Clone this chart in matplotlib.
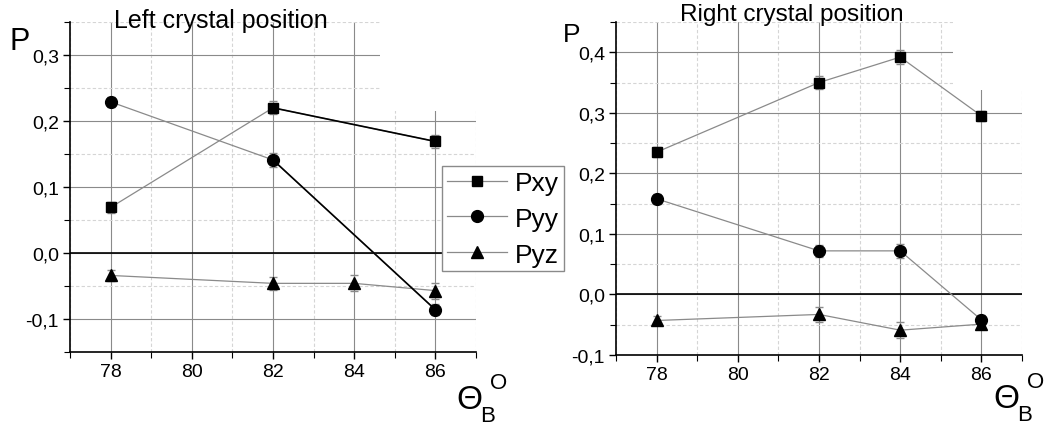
import numpy as np
import matplotlib.pyplot as plt
from matplotlib.lines import Line2D
from matplotlib.patches import Rectangle
from matplotlib.ticker import MultipleLocator, FuncFormatter

plt.rcParams['font.family'] = ['Liberation Sans', 'DejaVu Sans']

# left crystal position
left_x = {"Pxy": [78, 82, 86], "Pyy": [78, 82, 86], "Pyz": [78, 82, 84, 86]}
left_pxy = [0.069, 0.22, 0.169]
left_pyy = [0.229, 0.141, -0.086]
left_pyz = [-0.034, -0.046, -0.046, -0.057]
left_pxy_err = [0.008, 0.01, 0.01]
left_pyy_err = [0.008, 0.01, 0.008]
left_pyz_err = [0.008, 0.01, 0.012, 0.012]

# right crystal position
right_x = [78, 82, 84, 86]
right_pxy = [0.235, 0.350, 0.392, 0.295]
right_pyy = [0.158, 0.072, 0.072, -0.042]
right_pyz = [-0.043, -0.033, -0.059, -0.049]
right_pxy_err = [0.008, 0.01, 0.012, 0.008]
right_pyy_err = [0.008, 0.01, 0.012, 0.008]
right_pyz_err = [0.008, 0.012, 0.013, 0.008]

x_ticks = [78, 80, 82, 84, 86]
series = ["Pxy", "Pyy", "Pyz"]
markers = {"Pxy": ("s", 7.5), "Pyy": ("o", 8.5), "Pyz": ("^", 9)}

GRAY = "#8a8a8a"


def comma(v, pos):
    return ("%.1f" % v).replace(".", ",")


def setup_axes(ax, ylim, blank):
    ax.set_xlim(77, 87)
    ax.set_ylim(*ylim)
    ax.set_xticks(x_ticks)
    ax.xaxis.set_minor_locator(MultipleLocator(1))
    ax.yaxis.set_major_locator(MultipleLocator(0.1))
    ax.yaxis.set_minor_locator(MultipleLocator(0.05))
    ax.yaxis.set_major_formatter(FuncFormatter(comma))
    for s in ["top", "right"]:
        ax.spines[s].set_visible(False)
    ax.spines["left"].set_linewidth(1.2)
    ax.spines["bottom"].set_linewidth(1.2)
    ax.tick_params(which="major", direction="out", length=5, width=1, labelsize=14, pad=3)
    ax.tick_params(which="minor", direction="out", length=4, width=0.8)
    ax.set_axisbelow(True)
    ax.grid(which="major", color=GRAY, lw=0.8)
    ax.grid(which="minor", color="#d5d5d5", lw=0.8, ls=(0, (3, 2)))
    ax.axhline(0, color="black", lw=1.2, zorder=0.9)
    # top right corner without grid, as in the original
    ax.add_patch(Rectangle((blank[0], blank[1]), 87 - blank[0], ylim[1] - blank[1],
                           facecolor="white", edgecolor="none", zorder=0.95))


def draw(ax, x, y, err, name, dark_from=None):
    m, ms = markers[name]
    ax.errorbar(x, y, yerr=err, fmt="none", ecolor=GRAY, elinewidth=0.8, capsize=3, zorder=2)
    ax.plot(x, y, color=GRAY, lw=0.9, zorder=2.5)
    if dark_from is not None:
        ax.plot(x[dark_from:], y[dark_from:], color="black", lw=1.2, zorder=2.6)
    ax.plot(x, y, ls="none", marker=m, ms=ms, color="black", zorder=3)


fig = plt.figure(figsize=(10.55, 4.27), dpi=100)
W, H = 1055, 427

axl = fig.add_axes([70 / W, 1 - 353 / H, 406 / W, 330 / H])
setup_axes(axl, (-0.15, 0.35), (84.63, 0.215))
draw(axl, left_x["Pxy"], left_pxy, left_pxy_err, "Pxy", dark_from=1)
draw(axl, left_x["Pyy"], left_pyy, left_pyy_err, "Pyy", dark_from=1)
draw(axl, left_x["Pyz"], left_pyz, left_pyz_err, "Pyz")

axr = fig.add_axes([616 / W, 1 - 356 / H, 406 / W, 333 / H])
setup_axes(axr, (-0.1, 0.45), (85.3, 0.338))
draw(axr, right_x, right_pxy, right_pxy_err, "Pxy")
draw(axr, right_x, right_pyy, right_pyy_err, "Pyy")
draw(axr, right_x, right_pyz, right_pyz_err, "Pyz")

# titles and axis letters
fig.text(221 / W, 1 - 28 / H, "Left crystal position", ha="center", va="baseline", fontsize=18)
fig.text(792 / W, 1 - 21 / H, "Right crystal position", ha="center", va="baseline", fontsize=17.5)
fig.text(9 / W, 1 - 50 / H, "P", ha="left", va="baseline", fontsize=22)
fig.text(563 / W, 1 - 42 / H, "P", ha="left", va="baseline", fontsize=19)

for x0, y0 in [(456, 409), (993, 408)]:
    fig.text(x0 / W, 1 - y0 / H, "\u0398", ha="left", va="baseline", fontsize=24)
    fig.text((x0 + 24) / W, 1 - (y0 + 13) / H, "B", ha="left", va="baseline", fontsize=16)
    fig.text((x0 + 34) / W, 1 - (y0 - 20) / H, "O", ha="left", va="baseline", fontsize=16)

handles = [Line2D([], [], color=GRAY, lw=0.9, marker=markers[s][0], ms=markers[s][1],
                  markerfacecolor="black", markeredgecolor="black") for s in series]
leg = fig.legend(handles, series, loc="upper left", bbox_to_anchor=(442 / W, 1 - 167 / H),
                 fontsize=19, frameon=True, fancybox=False, framealpha=1,
                 edgecolor=GRAY, handlelength=2.3, handletextpad=0.3,
                 labelspacing=0.45, borderpad=0.18, borderaxespad=0)
leg.get_frame().set_linewidth(1.0)

fig.savefig("out.png", dpi=100)
